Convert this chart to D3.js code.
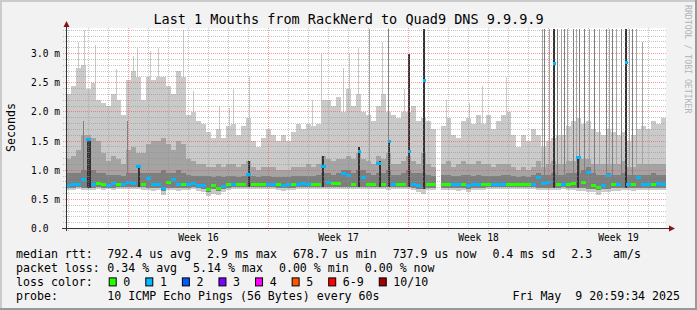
<!DOCTYPE html>
<html lang="en">
<head>
<meta charset="UTF-8" />
<title>Last 1 Mouths from RackNerd to Quad9 DNS 9.9.9.9</title>
<script src="https://d3js.org/d3.v7.min.js"></script>
<style>
  html, body { margin: 0; padding: 0; background: #f2f2f2; }
  svg { display: block; }
  text { font-family: "DejaVu Sans Mono", monospace; fill: #000; white-space: pre; }
</style>
</head>
<body>
<svg id="chart" width="697" height="310"></svg>
<script>
// time window: 30 days ending at the probe timestamp, 6 hour bins
const endTime = new Date(Date.UTC(2025, 4, 9, 20, 59, 34));
const spanHours = 720;
const binHours = 6;

// smoke bands (ms), one value per 6h bin, null = no data
const smokeMax = [
  2.3, 2.45, 2.75, 2.8, 2.4, 2.5, 2.2, 2.15, 2.1, 2.3,
  2.2, 1.95, 2.55, 2.7, 2.6, 2.2, 2.6, 2.55, 2.6, 2.6,
  2.45, 2.3, 2.7, 2.6, 1.95, 2.0, 1.85, 1.8, 1.65, 1.55,
  1.7, 1.55, 1.75, 1.8, 1.6, 1.75, 1.9, 1.5, 1.4, 1.55,
  1.7, 1.6, 1.5, 1.6, 1.5, 1.65, 1.8, 1.7, 1.8, 1.75,
  1.8, 2.2, 2.2, 2.1, 2.25, 2.0, 2.4, 2.1, 2.3, 2.0,
  1.95, 1.85, 2.1, 2.3, 2.0, 1.95, 1.9, 2.0, 2.0, 2.1,
  1.85, 1.9, 1.85, 1.7, null, 1.75, 1.9, 1.6, 1.55, 1.85,
  1.9, 1.8, 1.95, 1.8, 1.95, 1.7, 1.85, 1.95, 2.0, 1.6,
  1.4, 1.6, 1.5, 1.7, 1.6, 1.4, 1.5, 1.55, 1.6, 1.6,
  1.75, 1.85, 1.9, 1.8, 1.85, 1.7, 1.65, 1.6, 1.7, 1.65,
  1.6, 1.65, 1.5, 1.6, 1.7, 1.75, 1.7, 1.85, 1.8, 1.9
];
const smokeP9 = [
  1.2, 1.25, 1.35, 1.6, 1.6, 1.55, 1.5, 1.3, 1.15, 1.25,
  1.2, 1.1, 1.35, 1.4, 1.3, 1.3, 1.45, 1.5, 1.5, 1.55,
  1.45, 1.35, 1.5, 1.45, 1.2, 1.15, 1.1, 1.1, 1.05, 1.05,
  1.1, 1.05, 1.1, 1.1, 1.05, 1.1, 1.15, 1.05, 1.0, 1.05,
  1.05, 1.05, 1.0, 1.0, 1.0, 1.05, 1.05, 1.05, 1.1, 1.05,
  1.1, 1.25, 1.2, 1.15, 1.2, 1.2, 1.25, 1.2, 1.3, 1.2,
  1.15, 1.1, 1.25, 1.2, 1.3, 1.1, 1.1, 1.15, 1.25, 1.15,
  1.1, 1.3, 1.1, 1.05, null, 1.1, 1.15, 1.05, 1.1, 1.15,
  1.1, 1.1, 1.15, 1.1, 1.1, 1.05, 1.1, 1.1, 1.1, 1.05,
  1.0, 1.05, 1.0, 1.05, 1.15, 1.05, 1.1, 1.15, 1.1, 1.1,
  1.15, 1.15, 1.25, 1.2, 1.2, 1.1, 1.1, 1.1, 1.1, 1.1,
  1.1, 1.15, 1.05, 1.05, 1.1, 1.1, 1.1, 1.1, 1.1, 1.1
];
const smokeP8 = [
  0.95, 0.95, 0.95, 1.0, 1.0, 1.0, 0.95, 0.95, 0.92, 0.92,
  0.92, 0.9, 0.95, 0.95, 0.95, 0.95, 0.95, 0.95, 0.95, 1.0,
  0.95, 0.95, 1.0, 0.95, 0.92, 0.9, 0.9, 0.9, 0.9, 0.88,
  0.9, 0.88, 0.9, 0.9, 0.88, 0.9, 0.95, 0.9, 0.88, 0.9,
  0.9, 0.88, 0.88, 0.88, 0.88, 0.9, 0.9, 0.9, 0.9, 0.9,
  0.92, 0.95, 0.95, 0.92, 0.95, 1.0, 1.0, 0.95, 1.0, 1.0,
  0.95, 0.92, 0.95, 0.95, 1.0, 0.92, 0.92, 0.95, 1.0, 0.95,
  0.95, 0.95, 0.92, 0.9, null, 0.92, 0.92, 0.9, 0.9, 0.92,
  0.92, 0.9, 0.92, 0.9, 0.9, 0.9, 0.9, 0.92, 0.92, 0.9,
  0.88, 0.9, 0.88, 0.92, 0.95, 0.92, 0.92, 0.95, 0.92, 0.92,
  0.95, 0.95, 0.95, 1.0, 1.05, 0.95, 0.92, 0.92, 0.95, 0.92,
  0.92, 0.95, 0.92, 0.92, 0.92, 0.92, 0.92, 0.95, 0.92, 0.92
];
const smokeLow = [
  0.70, 0.70, 0.71, 0.70, 0.70, 0.70, 0.71, 0.70, 0.70, 0.70,
  0.72, 0.71, 0.72, 0.72, 0.72, 0.71, 0.70, 0.69, 0.70, 0.65,
  0.70, 0.70, 0.70, 0.70, 0.70, 0.71, 0.70, 0.68, 0.63, 0.68,
  0.65, 0.68, 0.70, 0.71, 0.71, 0.71, 0.72, 0.71, 0.71, 0.71,
  0.71, 0.71, 0.70, 0.70, 0.70, 0.70, 0.71, 0.71, 0.71, 0.71,
  0.71, 0.72, 0.72, 0.72, 0.72, 0.72, 0.72, 0.71, 0.71, 0.71,
  0.71, 0.71, 0.71, 0.71, 0.71, 0.71, 0.71, 0.71, 0.71, 0.70,
  0.68, 0.68, 0.70, 0.70, null, 0.70, 0.70, 0.70, 0.69, 0.70,
  0.68, 0.70, 0.70, 0.70, 0.71, 0.71, 0.71, 0.71, 0.71, 0.71,
  0.71, 0.71, 0.71, 0.71, 0.70, 0.70, 0.70, 0.70, 0.70, 0.71,
  0.70, 0.70, 0.69, 0.69, 0.68, 0.68, 0.66, 0.68, 0.68, 0.69,
  0.69, 0.70, 0.70, 0.69, 0.70, 0.70, 0.70, 0.70, 0.70, 0.70
];
const smokeMin = [
  0.66, 0.66, 0.67, 0.66, 0.66, 0.66, 0.67, 0.66, 0.67, 0.66,
  0.68, 0.68, 0.68, 0.68, 0.68, 0.66, 0.66, 0.64, 0.66, 0.58,
  0.66, 0.66, 0.65, 0.66, 0.66, 0.67, 0.65, 0.62, 0.55, 0.60,
  0.57, 0.62, 0.66, 0.67, 0.67, 0.67, 0.68, 0.67, 0.67, 0.67,
  0.67, 0.67, 0.66, 0.64, 0.66, 0.66, 0.67, 0.67, 0.67, 0.67,
  0.67, 0.68, 0.68, 0.68, 0.68, 0.68, 0.68, 0.67, 0.67, 0.67,
  0.67, 0.67, 0.67, 0.67, 0.66, 0.67, 0.67, 0.67, 0.67, 0.66,
  0.62, 0.60, 0.66, 0.66, null, 0.66, 0.66, 0.66, 0.64, 0.66,
  0.62, 0.66, 0.66, 0.66, 0.67, 0.67, 0.67, 0.67, 0.67, 0.67,
  0.67, 0.67, 0.67, 0.67, 0.66, 0.66, 0.66, 0.66, 0.66, 0.67,
  0.66, 0.66, 0.64, 0.64, 0.62, 0.62, 0.58, 0.62, 0.63, 0.64,
  0.64, 0.66, 0.66, 0.64, 0.66, 0.66, 0.66, 0.66, 0.66, 0.66
];
const medianRtt = [
  0.75, 0.77, 0.76, 0.85, 1.54, 0.76, 0.78, 0.76, 0.75, 0.78,
  0.77, 0.76, 0.79, 0.78, 1.08, 0.77, 0.86, 0.76, 0.77, 0.69,
  0.80, 0.85, 0.77, 0.77, 0.76, 0.78, 0.75, 0.74, 0.68, 0.74,
  0.70, 0.73, 0.76, 0.77, 0.76, 0.77, 0.93, 0.76, 0.76, 0.77,
  0.77, 0.76, 0.76, 0.75, 0.76, 0.77, 0.77, 0.78, 0.77, 0.76,
  0.76, 1.08, 0.79, 0.78, 0.78, 0.95, 0.92, 0.77, 1.33, 0.88,
  0.77, 0.76, 1.13, 0.76, 1.5, 0.77, 0.76, 0.77, 1.33, 0.77,
  0.74, 2.55, 0.77, 0.77, null, 0.76, 0.77, 0.77, 0.76, 0.77,
  0.75, 0.77, 0.76, 0.76, 0.77, 0.77, 0.77, 0.77, 0.77, 0.76,
  0.76, 0.76, 0.76, 0.77, 0.88, 0.78, 0.79, 2.83, 0.76, 0.77,
  0.77, 0.78, 1.22, 0.80, 0.97, 0.75, 0.72, 0.75, 0.92, 0.76,
  0.76, 2.85, 0.77, 0.76, 0.88, 0.77, 0.76, 0.77, 0.78, 0.76
];
// lost pings per bin (0 or 1 of 10)
const lostPings = [
  1, 1, 1, 1, 1, 1, 0, 0, 1, 1,
  0, 1, 1, 1, 1, 0, 1, 1, 1, 1,
  0, 1, 1, 0, 1, 1, 1, 1, 0, 0,
  0, 1, 0, 1, 0, 0, 1, 0, 0, 0,
  1, 1, 0, 1, 1, 0, 1, 1, 1, 0,
  0, 1, 1, 0, 0, 1, 1, 0, 1, 1,
  0, 0, 1, 0, 1, 1, 0, 0, 1, 1,
  1, 1, 0, 0, null, 0, 0, 1, 1, 0,
  1, 1, 1, 0, 0, 1, 1, 1, 0, 0,
  0, 0, 0, 1, 1, 1, 1, 1, 0, 1,
  0, 0, 1, 0, 1, 0, 0, 1, 1, 0,
  1, 1, 1, 0, 1, 1, 1, 0, 1, 1
];

// single-sample spikes: hours after window start, top (ms), smoke band hit
// band 1 = outer ping, 2 = 9th, 3 = 8th, 5 = median core
const spikeHour = [
  14.4, 22.2, 35.6, 60, 80.4, 85.2, 100.8, 110.4, 140.4, 152.4, 183.6, 195.6,
  200.4, 220.4, 295.2, 306.6, 332.4, 339.6, 350.4, 379.2, 405.6, 456.8, 483.6,
  500.4, 528.8,
  21, 73.8, 364.2, 387,
  25.8, 28.2, 86.4, 219, 307.8, 351, 376.2, 387, 411, 429,
  571.4, 574.2, 580.2, 585, 590, 594.2, 598.2, 602, 609, 612, 613.8, 616.2,
  622.2, 628.2, 634.2, 640.2, 648.2, 652.2, 656.2, 660.2, 666.2, 671.4,
  676.2, 680.2, 684.2, 692.2
];
const spikeTop = [
  3.2, 3.4, 3.15, 2.73, 2.95, 3.1, 3.05, 3.1, 3.4, 2.35, 2.1, 2.07,
  2.4, 2.6, 2.2, 3.0, 2.75, 3.0, 3.1, 3.2, 2.4, 2.2, 2.15,
  2.45, 2.6,
  1.85, 1.85, 3.43, 3.43,
  1.54, 1.54, 1.08, 1.15, 1.25, 1.4, 1.15, 1.5, 3.0, 3.43,
  3.43, 3.43, 3.43, 3.43, 3.43, 3.43, 3.43, 3.43, 3.43, 3.43, 1.25, 3.43,
  3.43, 3.43, 3.43, 3.43, 3.43, 3.43, 3.43, 3.43, 3.43, 3.43,
  3.43, 3.43, 3.43, 3.2
];
const spikeBand = [
  1, 1, 1, 1, 1, 1, 1, 1, 1, 1, 1, 1,
  1, 1, 1, 1, 1, 1, 1, 1, 1, 1, 1,
  1, 1,
  3, 3, 2, 3,
  5, 5, 5, 5, 5, 5, 5, 5, 5, 5,
  2, 3, 2, 5, 3, 2, 3, 2, 3, 2, 5, 3,
  3, 2, 3, 2, 3, 2, 3, 2, 3, 5,
  2, 3, 2, 2
];

const yTickValues = [0, 0.5, 1.0, 1.5, 2.0, 2.5, 3.0];
const yTickLabels = ["0.0  ", "0.5 m", "1.0 m", "1.5 m", "2.0 m", "2.5 m", "3.0 m"];
const weekLabels = ["Week 16", "Week 17", "Week 18", "Week 19"];

const lossColors = ["#26ff00", "#00b8ff", "#0059ff", "#7e00ff", "#ff00ff", "#ff5500", "#ff0000", "#a10000"];
const lossLabels = ["0", "1", "2", "3", "4", "5", "6-9", "10/10"];

const rttStats = ["792.4 us avg", "2.9 ms max", "678.7 us min", "737.9 us now", "0.4 ms sd", "2.3   am/s"];
const lossStats = ["0.34 % avg", "5.14 % max", "0.00 % min", "0.00 % now"];
const probeText = "10 ICMP Echo Pings (56 Bytes) every 60s";
const stampText = "Fri May  9 20:59:34 2025";

const W = 697, H = 310;
const yTop = 3.4286;
const startTime = d3.utcHour.offset(endTime, -spanHours);

const svg = d3.select("#chart");

// background + 3d frame
svg.append("rect").attr("width", W).attr("height", H).attr("fill", "#f2f2f2");
svg.append("path").attr("d", `M0,0H${W}V2H2V${H}H0Z`).attr("fill", "#cbcbcb");
svg.append("path").attr("d", `M${W},${H}H0V${H - 2}H${W - 2}V0H${W}Z`).attr("fill", "#999");

const x = d3.scaleUtc().domain([startTime, endTime]).range([66, 666]);
const y = d3.scaleLinear().domain([0, yTop]).range([228.5, 28.5]);

// canvas
svg.append("rect").attr("x", 66).attr("y", 28).attr("width", 600).attr("height", 200.5).attr("fill", "#fff");

const binStart = smokeMax.map((d, i) => d3.utcHour.offset(startTime, i * binHours));
const binX = i => x(binStart[i]);
const binW = i => x(d3.utcHour.offset(binStart[i], binHours)) - x(binStart[i]);
const binIdx = d3.range(smokeMax.length).filter(i => smokeMax[i] != null);

// smoke, outer band first
const bands = [
  { lo: smokeMin, hi: smokeMax, color: "#cacaca" },
  { lo: smokeLow, hi: smokeP9, color: "#a4a4a4" },
  { lo: smokeLow, hi: smokeP8, color: "#7e7e7e" }
];
bands.forEach(b => {
  svg.append("g")
    .attr("shape-rendering", "crispEdges")
    .selectAll("rect")
    .data(binIdx)
    .join("rect")
    .attr("x", binX)
    .attr("width", binW)
    .attr("y", i => y(Math.min(b.hi[i], yTop)))
    .attr("height", i => y(b.lo[i]) - y(Math.min(b.hi[i], yTop)))
    .attr("fill", b.color);
});

// spikes
const bandColor = { 1: "#cacaca", 2: "#a4a4a4", 3: "#7e7e7e", 5: "#323232" };
const bandBase = { 1: smokeP9, 2: smokeP8, 3: smokeP8, 5: smokeLow };
const spikes = spikeHour.map((h, k) => {
  const t = new Date(+startTime + h * 3600e3);
  const bin = Math.min(smokeMax.length - 1, Math.floor(h / binHours));
  return { t, top: Math.min(spikeTop[k], yTop), band: spikeBand[k], bin };
});
svg.append("g")
  .attr("shape-rendering", "crispEdges")
  .selectAll("rect")
  .data(spikes.slice().sort((a, b) => a.band - b.band))
  .join("rect")
  .attr("x", d => Math.floor(x(d.t)))
  .attr("width", d => d.band === 5 ? 2 : 1)
  .attr("y", d => y(d.top))
  .attr("height", d => y(bandBase[d.band][d.bin]) - y(d.top))
  .attr("fill", d => bandColor[d.band]);

// median, coloured by loss; outliers sit as a dot on their core spike
const coreX = {};
spikes.filter(s => s.band === 5).forEach(s => {
  if (!(s.bin in coreX) || s.top > coreX[s.bin].top) coreX[s.bin] = { top: s.top, x: Math.floor(x(s.t)) };
});
svg.append("g")
  .attr("shape-rendering", "crispEdges")
  .selectAll("rect")
  .data(binIdx.filter(i => medianRtt[i] != null))
  .join("rect")
  .attr("x", i => medianRtt[i] > smokeP9[i] && coreX[i] ? coreX[i].x - 0.5 : binX(i))
  .attr("width", i => medianRtt[i] > smokeP9[i] && coreX[i] ? 3 : binW(i))
  .attr("y", i => Math.round(y(medianRtt[i])) - 1.5)
  .attr("height", 3)
  .attr("fill", i => lossColors[lostPings[i]]);

// grid (drawn over the data, rrdtool style)
const grid = svg.append("g").attr("shape-rendering", "crispEdges").attr("stroke-dasharray", "1,1");
d3.range(1, 35).forEach(k => {
  const yy = Math.floor(y(k / 10)) + 0.5;
  grid.append("line")
    .attr("x1", 63).attr("x2", 666).attr("y1", yy).attr("y2", yy)
    .attr("stroke", k % 5 === 0 ? "rgba(255,70,70,0.55)" : "rgba(140,140,140,0.5)");
});
d3.utcDay.range(d3.utcDay.ceil(startTime), endTime).forEach(d => {
  const xx = Math.floor(x(d)) + 0.5;
  grid.append("line")
    .attr("x1", xx).attr("x2", xx).attr("y1", 28).attr("y2", 231)
    .attr("stroke", d.getUTCDay() === 0 ? "rgba(255,70,70,0.55)" : "rgba(140,140,140,0.5)");
});

// axes
svg.append("line").attr("x1", 62).attr("x2", 669).attr("y1", 228.5).attr("y2", 228.5)
  .attr("stroke", "#333").attr("shape-rendering", "crispEdges");
svg.append("line").attr("x1", 66.5).attr("x2", 66.5).attr("y1", 231).attr("y2", 26)
  .attr("stroke", "#333").attr("shape-rendering", "crispEdges");
svg.append("path").attr("d", "M669,225.5L675,228.5L669,231.5Z").attr("fill", "#8b1010");
svg.append("path").attr("d", "M63.5,27L66.5,21L69.5,27Z").attr("fill", "#8b1010");

// y labels
svg.selectAll("text.ylab")
  .data(yTickValues)
  .join("text")
  .attr("class", "ylab")
  .attr("x", 60)
  .attr("y", d => Math.floor(y(d)) + 4)
  .attr("text-anchor", "end")
  .style("font-size", "9.6px")
  .text((d, i) => yTickLabels[i]);

// week labels, centred on each week
const weeks = d3.utcSunday.range(startTime, endTime);
svg.selectAll("text.xlab")
  .data(weeks)
  .join("text")
  .attr("class", "xlab")
  .attr("x", d => x(d3.utcHour.offset(d, 84)))
  .attr("y", 241)
  .attr("text-anchor", "middle")
  .style("font-size", "9.6px")
  .text((d, i) => weekLabels[i]);

// title, unit, watermark
svg.append("text").attr("x", 348.5).attr("y", 24).attr("text-anchor", "middle")
  .style("font-size", "13.5px").text("Last 1 Mouths from RackNerd to Quad9 DNS 9.9.9.9");
svg.append("text").attr("transform", "translate(15,127.5) rotate(-90)").attr("text-anchor", "middle")
  .style("font-size", "11.6px").text("Seconds");
svg.append("text").attr("transform", "translate(685,5) rotate(90)")
  .style("font-size", "8.2px").style("fill", "#b4b4b4").text("RRDTOOL / TOBI OETIKER");

// legend
const lf = "11.6px";
const rows = [258, 272.3, 286.4, 300.4];
function statRow(label, items, yy) {
  svg.append("text").attr("x", 16).attr("y", yy).style("font-size", lf).text(label);
  let cx = 107.3;
  items.forEach(s => {
    const t = svg.append("text").attr("x", cx).attr("y", yy).style("font-size", lf).text(s);
    cx += t.node().getComputedTextLength() + 16;
  });
}
statRow("median rtt:", rttStats, rows[0]);
statRow("packet loss:", lossStats, rows[1]);

svg.append("text").attr("x", 16).attr("y", rows[2]).style("font-size", lf).text("loss color:");
let bx = 108.7;
lossLabels.forEach((lab, i) => {
  svg.append("rect").attr("x", bx + 0.5).attr("y", rows[2] - 8.5).attr("width", 7).attr("height", 8)
    .attr("fill", lossColors[i]).attr("stroke", "#000");
  const t = svg.append("text").attr("x", bx + 14.6).attr("y", rows[2]).style("font-size", lf).text(lab);
  bx += 14.6 + t.node().getComputedTextLength() + 15;
});

svg.append("text").attr("x", 16).attr("y", rows[3]).style("font-size", lf).text("probe:");
svg.append("text").attr("x", 107.3).attr("y", rows[3]).style("font-size", lf).text(probeText);
svg.append("text").attr("x", 680).attr("y", rows[3]).attr("text-anchor", "end").style("font-size", lf).text(stampText);
</script>
</body>
</html>
